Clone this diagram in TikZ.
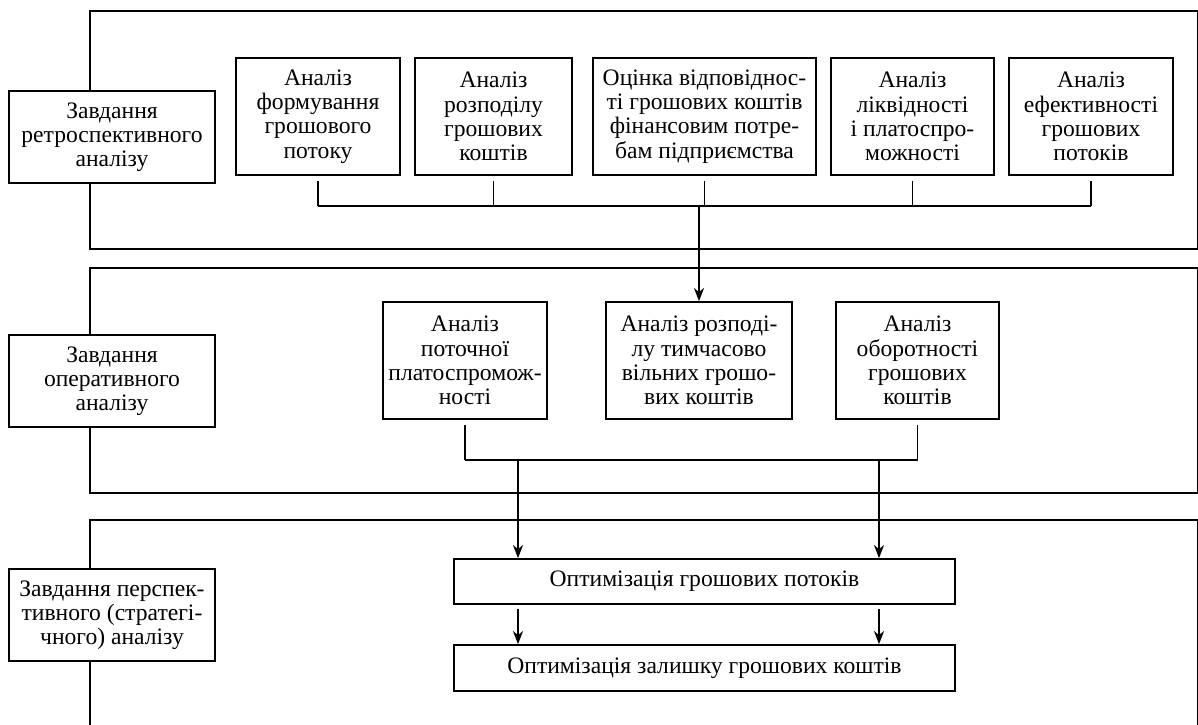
\documentclass[tikz,border=0pt]{standalone}
\usepackage{fontspec}
\setmainfont{Liberation Serif}
\usetikzlibrary{arrows.meta}

\begin{document}
\begin{tikzpicture}[x=0.5pt, y=-0.5pt, line width=0.9pt,
        box/.style={draw, fill=white, align=center, inner sep=0pt,
            font=\fontsize{11.8}{12.1}\selectfont},
        task/.style={box, minimum width=103pt, minimum height=46pt},
        arr/.style={-{Stealth[length=6.5pt, width=5pt, inset=2pt]}}]
        \useasboundingbox (0, 0) rectangle (1198, 724);
        % frames of the three levels
        \draw (1199, 11) -- (90, 11) -- (90, 249) -- (1199, 249);
        \draw (1199, 268) -- (90, 268) -- (90, 493) -- (1199, 493);
        \draw (1199, 520) -- (90, 520) -- (90, 730);
        \draw (1198, 11) -- (1198, 249);
        \draw (1198, 268) -- (1198, 493);
        \draw (1198, 520) -- (1198, 730);

        \node [task] (z1) at (112, 137) {Завдання\\ретроспективного\\аналізу};
        \node [task] (z2) at (112, 381) {Завдання\\оперативного\\аналізу};
        \node [task] (z3) at (112, 615) {Завдання перспек-\\тивного (стратегі-\\чного) аналізу};

        % retrospective
        \tikzset{box/.append style={minimum height=58.5pt}}
        \node [box, minimum width=82pt] (r1) at (318, 116.5) {Аналіз\\формування\\грошового\\потоку};
        \node [box, minimum width=78.5pt] (r2) at (493.5, 116.5) {Аналіз\\розподілу\\грошових\\коштів};
        \node [box, minimum width=111.5pt] (r3) at (704.5, 116.5) {Оцінка відповіднос-\\ті грошових коштів\\фінансовим потре-\\бам підприємства};
        \node [box, minimum width=81.5pt] (r4) at (912.5, 116.5) {Аналіз\\ліквідності\\і платоспро-\\можності};
        \node [box, minimum width=82pt] (r5) at (1091, 116.5) {Аналіз\\ефективності\\грошових\\потоків};

        % operative
        \node [box, minimum width=82pt] (o1) at (465, 360.5) {Аналіз\\поточної\\платоспромож-\\ності};
        \node [box, minimum width=93pt] (o2) at (699, 360.5) {Аналіз розподі-\\лу тимчасово\\вільних грошо-\\вих коштів};
        \node [box, minimum width=81.5pt] (o3) at (917.5, 360.5) {Аналіз\\оборотності\\грошових\\коштів};

        % perspective
        \node [box, minimum width=250.5pt, minimum height=22.5pt] (p1) at (704.5, 581.5) {Оптимізація грошових потоків};
        \node [box, minimum width=250.5pt, minimum height=23pt] (p2) at (704.5, 668) {Оптимізація залишку грошових коштів};

        \coordinate (bus1) at (320, 206);
        \coordinate (bus2) at (467, 460);
        \coordinate (pl) at (518, 460);
        \coordinate (pr) at (879, 460);

        \foreach \n in {r1, r2, r3, r4, r5}
            \draw ([yshift=-2.5pt]\n.south) -- (\n.south |- bus1);
        \draw (r1.south |- bus1) -- (r5.south |- bus1);
        \draw [arr] (o2.north |- bus1) -- (o2.north);

        \foreach \n in {o1, o3}
            \draw ([yshift=-2.5pt]\n.south) -- (\n.south |- bus2);
        \draw (o1.south |- bus2) -- (o3.south |- bus2);
        \draw [arr] (pl) -- (pl |- p1.north);
        \draw [arr] (pr) -- (pr |- p1.north);
        \draw [arr] ([yshift=-2pt]pl |- p1.south) -- (pl |- p2.north);
        \draw [arr] ([yshift=-2pt]pr |- p1.south) -- (pr |- p2.north);
    \end{tikzpicture}
\end{document}
